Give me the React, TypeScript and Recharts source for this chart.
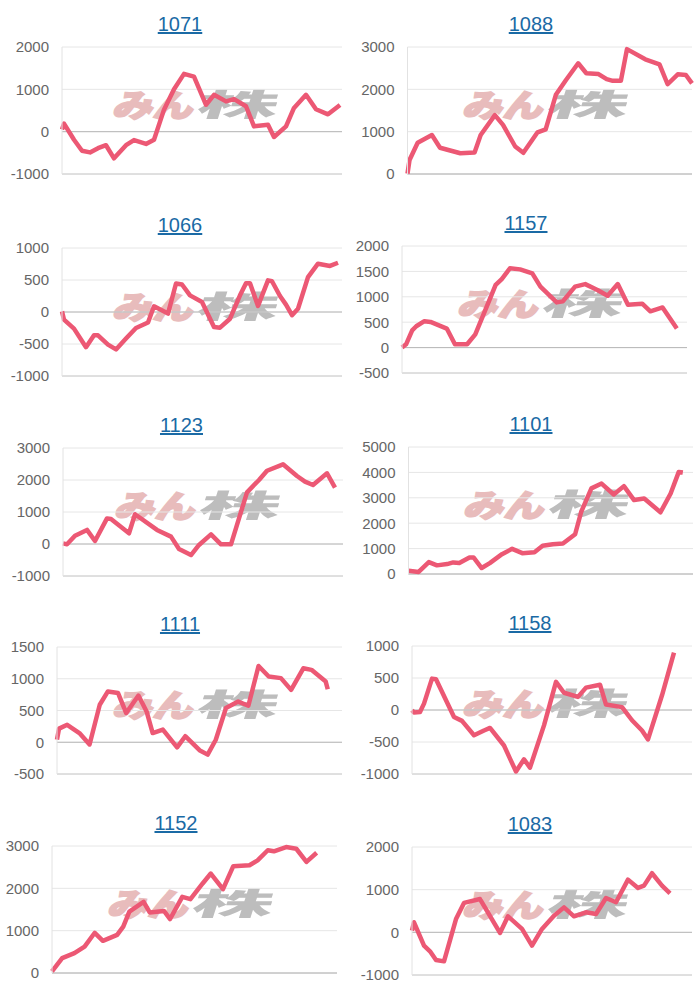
import { LineChart, Line, XAxis, YAxis, CartesianGrid, ReferenceLine } from 'recharts'

const days1071 = [0, 1, 6, 10, 14, 18, 22, 26, 32, 36, 42, 46, 51, 56, 61, 66, 72, 76, 82, 86, 92, 96, 103, 106, 112, 116, 122, 127, 133, 139]
const values1071 = [50, 190, -190, -450, -490, -390, -320, -630, -320, -200, -290, -190, 520, 1000, 1365, 1300, 635, 870, 715, 770, 600, 125, 165, -125, 125, 560, 870, 530, 410, 630]
const ticks1071 = [-1000, 0, 1000, 2000]

const days1088 = [0, 1, 5, 12, 16, 26, 33, 36, 43, 47, 53, 57, 64, 68, 73, 78, 84, 88, 94, 98, 101, 105, 108, 117, 124, 128, 133, 137, 140]
const values1088 = [10, 330, 740, 920, 620, 490, 510, 920, 1390, 1160, 650, 500, 985, 1055, 1870, 2220, 2615, 2380, 2360, 2240, 2200, 2200, 2950, 2710, 2590, 2120, 2355, 2340, 2140]
const ticks1088 = [0, 1000, 2000, 3000]

const days1066 = [0, 1, 6, 12, 16, 18, 23, 27, 32, 37, 43, 46, 53, 57, 60, 64, 70, 76, 79, 84, 89, 92, 94, 98, 103, 105, 109, 112, 115, 118, 123, 128, 134, 138]
const values1066 = [10, -120, -260, -550, -365, -365, -510, -585, -415, -250, -165, 90, -25, 445, 430, 260, 155, -235, -245, -105, 260, 450, 450, 95, 495, 480, 250, 115, -50, 50, 545, 755, 720, 770]
const ticks1066 = [-1000, -500, 0, 500, 1000]

const days1157 = [0, 2, 5, 7, 11, 14, 22, 26, 32, 36, 40, 46, 49, 53, 58, 64, 68, 76, 79, 85, 90, 96, 101, 106, 111, 118, 122, 128, 135]
const values1157 = [0, 65, 340, 420, 520, 505, 375, 65, 65, 260, 650, 1235, 1350, 1560, 1540, 1460, 1200, 890, 910, 1200, 1250, 1135, 1020, 1250, 845, 865, 715, 790, 375]
const ticks1157 = [-500, 0, 500, 1000, 1500, 2000]

const days1123 = [0, 2, 6, 12, 16, 22, 24, 33, 36, 47, 54, 58, 64, 68, 74, 79, 84, 88, 92, 98, 102, 110, 117, 121, 125, 132, 136]
const values1123 = [20, -10, 260, 440, 95, 800, 780, 335, 930, 440, 230, -155, -345, -30, 300, -10, -10, 800, 1615, 2000, 2290, 2490, 2125, 1950, 1845, 2210, 1760]
const ticks1123 = [-1000, 0, 1000, 2000, 3000]

const days1101 = [0, 5, 10, 14, 19, 22, 25, 30, 32, 36, 40, 46, 51, 56, 62, 66, 71, 76, 82, 85, 90, 95, 101, 106, 111, 116, 124, 129, 133, 135]
const values1101 = [130, 80, 470, 340, 390, 455, 430, 650, 650, 235, 430, 780, 990, 820, 860, 1110, 1175, 1200, 1565, 2450, 3370, 3560, 3130, 3460, 2910, 2975, 2430, 3170, 4020, 3995]
const ticks1101 = [0, 1000, 2000, 3000, 4000, 5000]

const days1111 = [0, 1, 5, 11, 16, 21, 25, 30, 34, 40, 44, 47, 52, 59, 63, 70, 74, 78, 83, 89, 94, 99, 104, 110, 115, 121, 125, 132, 133]
const values1111 = [40, 215, 275, 145, -35, 590, 800, 775, 460, 735, 485, 145, 200, -80, 95, -125, -195, 40, 540, 640, 575, 1200, 1035, 1010, 825, 1165, 1140, 955, 835]
const ticks1111 = [-500, 0, 500, 1000, 1500]

const days1158 = [0, 1, 4, 6, 10, 12, 21, 25, 31, 36, 39, 46, 49, 52, 56, 59, 66, 72, 76, 83, 87, 94, 97, 105, 110, 115, 118, 125, 131]
const values1158 = [-5, -40, -30, 100, 490, 480, -110, -170, -395, -320, -280, -555, -760, -960, -770, -900, -240, 440, 270, 205, 350, 395, 85, 45, -160, -320, -460, 230, 895]
const ticks1158 = [-1000, -500, 0, 500, 1000]

const days1152 = [0, 5, 11, 16, 21, 25, 32, 35, 38, 45, 48, 55, 58, 64, 68, 74, 78, 84, 89, 97, 101, 106, 109, 115, 120, 125, 130]
const values1152 = [40, 350, 470, 625, 950, 760, 900, 1095, 1450, 1680, 1430, 1465, 1275, 1800, 1745, 2115, 2350, 1980, 2520, 2545, 2660, 2900, 2875, 2975, 2935, 2625, 2840]
const ticks1152 = [0, 1000, 2000, 3000]

const days1083 = [0, 1, 6, 9, 12, 16, 22, 26, 34, 44, 48, 55, 60, 65, 71, 76, 81, 87, 92, 97, 102, 108, 113, 116, 120, 125, 129]
const values1083 = [40, 235, -310, -445, -650, -680, 310, 690, 780, -15, 375, 80, -310, 80, 390, 585, 375, 470, 430, 805, 705, 1235, 1040, 1095, 1385, 1095, 915]
const ticks1083 = [-1000, 0, 1000, 2000]

const panels = [
  { title: '1071', days: days1071, values: values1071, ticks: ticks1071, col: 0, row: 0, left: 62, right: 342, top: 47, bottom: 174, titleX: 180, titleY: 24, markX: 115, markY: 89 },
  { title: '1088', days: days1088, values: values1088, ticks: ticks1088, col: 350, row: 0, left: 407.5, right: 692, top: 47, bottom: 174, titleX: 531, titleY: 24, markX: 465, markY: 89 },
  { title: '1066', days: days1066, values: values1066, ticks: ticks1066, col: 0, row: 200, left: 62, right: 342, top: 248, bottom: 376, titleX: 180, titleY: 225, markX: 115, markY: 291 },
  { title: '1157', days: days1157, values: values1157, ticks: ticks1157, col: 350, row: 200, left: 402, right: 687, top: 246, bottom: 373, titleX: 526, titleY: 223, markX: 460, markY: 288 },
  { title: '1123', days: days1123, values: values1123, ticks: ticks1123, col: 0, row: 400, left: 63, right: 343, top: 448, bottom: 576, titleX: 181.5, titleY: 425, markX: 117, markY: 490 },
  { title: '1101', days: days1101, values: values1101, ticks: ticks1101, col: 350, row: 400, left: 408.5, right: 693, top: 447, bottom: 574, titleX: 531, titleY: 423.5, markX: 466, markY: 489 },
  { title: '1111', days: days1111, values: values1111, ticks: ticks1111, col: 0, row: 600, left: 57, right: 342, top: 647, bottom: 774, titleX: 180, titleY: 623.5, markX: 115, markY: 689 },
  { title: '1158', days: days1158, values: values1158, ticks: ticks1158, col: 350, row: 600, left: 412, right: 692, top: 646, bottom: 774, titleX: 530, titleY: 622.5, markX: 465, markY: 688 },
  { title: '1152', days: days1152, values: values1152, ticks: ticks1152, col: 0, row: 800, left: 52, right: 337, top: 846, bottom: 973, titleX: 176, titleY: 822.5, markX: 110, markY: 888 },
  { title: '1083', days: days1083, values: values1083, ticks: ticks1083, col: 350, row: 800, left: 412, right: 692, top: 847, bottom: 975, titleX: 530, titleY: 823.5, markX: 465, markY: 889 },
]

const CHART_W = 350
const CHART_H = 200
const LINE_COLOR = '#ec5874'
const FONT = '"Liberation Sans", Arial, sans-serif'

function Watermark({ x, y }: { x: number; y: number }) {
  const jp = '"Noto Sans CJK JP", sans-serif'
  return (
    <div style={{ position: 'absolute', left: x, top: y, width: 165, height: 29, whiteSpace: 'nowrap' }}>
      {/* logo, stretched to the same box as the picture */}
      <span
        style={{
          position: 'absolute', left: 0, top: -14, fontFamily: jp, fontWeight: 900, fontSize: 36, lineHeight: '56px',
          color: '#e8bcbc', WebkitTextStroke: '2px #e8bcbc', transform: 'skewX(-12deg) scaleX(1.12) scaleY(0.88)', transformOrigin: 'left center',
        }}
      >
        みん
      </span>
      <span
        style={{
          position: 'absolute', left: 84, top: -15, fontFamily: jp, fontWeight: 900, fontSize: 31, lineHeight: '58px',
          color: '#bdbdbd', transform: 'skewX(-18deg) scaleX(2.6)', transformOrigin: 'left center',
        }}
      >
        株
      </span>
    </div>
  )
}

function Panel({ p }: { p: (typeof panels)[number] }) {
  const rows = p.days.map((day, i) => ({ day, value: p.values[i] }))
  const min = p.ticks[0]
  const max = p.ticks[p.ticks.length - 1]
  return (
    <>
      <Watermark x={p.markX} y={p.markY} />
      <a
        href="#"
        style={{
          position: 'absolute', left: p.titleX - 40, top: p.titleY - 13, width: 80, textAlign: 'center',
          fontFamily: FONT, fontSize: 20, lineHeight: '26px', color: '#1a6aa5',
        }}
      >
        {p.title}
      </a>
      <div style={{ position: 'absolute', left: p.col, top: p.row }}>
        <LineChart
          width={CHART_W}
          height={CHART_H}
          data={rows}
          margin={{
            top: p.top - p.row,
            right: CHART_W - (p.right - p.col),
            bottom: CHART_H - (p.bottom - p.row),
            left: 0,
          }}
        >
          <CartesianGrid horizontal vertical={false} stroke="#e6e6e6" />
          <XAxis dataKey="day" type="number" domain={[0, 140]} hide />
          <YAxis
            type="number"
            domain={[min, max]}
            ticks={p.ticks}
            interval={0}
            width={p.left - p.col}
            tickLine={false}
            tickMargin={7}
            axisLine={{ stroke: '#e2e2e2' }}
            tick={{ fill: '#666666', fontSize: 15, fontFamily: FONT }}
          />
          <ReferenceLine y={0} stroke="#b8b8b8" />
          <ReferenceLine y={min} stroke="#cccccc" />
          <Line
            dataKey="value"
            type="linear"
            stroke={LINE_COLOR}
            strokeWidth={4.5}
            strokeLinejoin="round"
            dot={false}
            isAnimationActive={false}
          />
        </LineChart>
      </div>
    </>
  )
}

export default function App() {
  return (
    <div style={{ position: 'absolute', left: 0, top: 0, width: 700, height: 1000, background: '#fff', overflow: 'hidden' }}>
      {panels.map((p) => (
        <Panel key={p.title} p={p} />
      ))}
    </div>
  )
}
